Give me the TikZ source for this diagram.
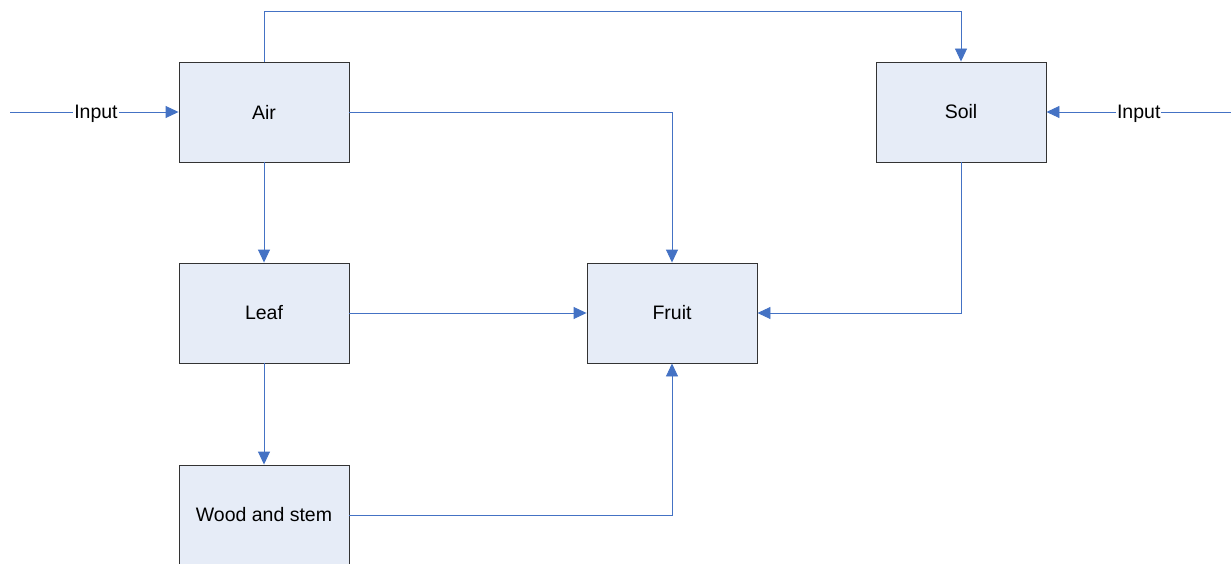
\documentclass[tikz,border=0pt]{standalone}
\usepackage{fontspec}
\setmainfont{Liberation Sans}
\usetikzlibrary{arrows.meta}
\definecolor{flow}{HTML}{4472C4}
\definecolor{boxfill}{HTML}{E6ECF7}
\begin{document}
\begin{tikzpicture}[x=1pt,y=-1pt,
  block/.style={draw=black!80, line width=0.9pt, fill=boxfill, minimum width=170pt, minimum height=100pt, inner sep=0pt, font=\fontsize{19.5}{23}\selectfont},
  link/.style={draw=flow, line width=0.9pt, -{Triangle[length=13pt,width=12pt]}},
  tag/.style={fill=white, inner sep=1pt, yshift=-1.5pt, font=\fontsize{19.5}{23}\selectfont}
]
\useasboundingbox (0,0) rectangle (1231,564);
\node[block] (air)   at (264,112) {Air};
\node[block] (soil)  at (961,112) {Soil};
\node[block] (leaf)  at (264,313) {Leaf};
\node[block] (fruit) at (672,313) {Fruit};
\node[block] (wood)  at (264,515) {Wood and stem};

\coordinate (inL) at (10,112);
\coordinate (inR) at (1231,112);

% inputs
\draw[link] (inL) -- node[tag, pos=0.51] {Input} (air.west);
\draw[link] (inR) -- node[tag, pos=0.50] {Input} (soil.east);

% air to soil across the top
\draw[link] (air.north) -- ++(0,-50) -| (soil.north);
% air to fruit
\draw[link] (air.east) -| (fruit.north);
% chain down the left column
\draw[link] (air.south) -- (leaf.north);
\draw[link] (leaf.south) -- (wood.north);
% into fruit
\draw[link] (leaf.east) -- (fruit.west);
\draw[link] (soil.south) |- (fruit.east);
\draw[link] (wood.east) -| (fruit.south);
\end{tikzpicture}
\end{document}
